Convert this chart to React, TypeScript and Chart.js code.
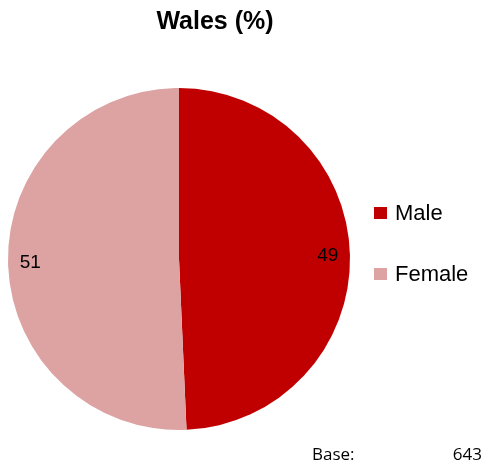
import React, { useEffect, useRef } from "react";
import { Chart, registerables } from "chart.js";

Chart.register(...registerables);

const categories = ["Male", "Female"];
const values = [49.3, 50.7];
const colors = ["#C00000", "#DDA3A3"];
const titleText = "Wales (%)";
const baseLabel = "Base:";
const baseValue = "643";

export default function App() {
  const ref = useRef<HTMLCanvasElement | null>(null);
  useEffect(() => {
    document.body.style.margin = "0";
    const canvas = ref.current!;
    const overlay = {
      id: "overlay",
      afterDraw(chart: any) {
        const ctx = chart.ctx;
        ctx.save();
        // title
        ctx.fillStyle = "#000";
        ctx.font = "bold 25px 'Liberation Sans', Arial, sans-serif";
        ctx.textAlign = "center";
        ctx.textBaseline = "alphabetic";
        ctx.fillText(titleText, 215, 29);
        // slice labels
        const meta = chart.getDatasetMeta(0);
        ctx.font = "19px 'Liberation Sans', Arial, sans-serif";
        ctx.textBaseline = "middle";
        meta.data.forEach((arc: any, i: number) => {
          const mid = (arc.startAngle + arc.endAngle) / 2;
          const r = arc.outerRadius * 0.87;
          const x = arc.x + Math.cos(mid) * r;
          const y = arc.y + Math.sin(mid) * r;
          ctx.fillText(String(Math.round(values[i])), x, y);
        });
        // legend
        ctx.textAlign = "left";
        ctx.font = "22px 'Liberation Sans', Arial, sans-serif";
        categories.forEach((c, i) => {
          const y = 213 + i * 61;
          ctx.fillStyle = colors[i];
          ctx.fillRect(374, y - 6, 13, 12);
          ctx.fillStyle = "#000";
          ctx.fillText(c, 395, y + 1);
        });
        // base
        ctx.font = "17px 'Open Sans', sans-serif";
        ctx.textBaseline = "alphabetic";
        ctx.fillText(baseLabel, 312, 460);
        ctx.textAlign = "right";
        ctx.fillText(baseValue, 482, 460);
        ctx.restore();
      },
    };
    const chart = new Chart(canvas, {
      type: "pie",
      data: {
        labels: categories,
        datasets: [
          {
            data: values,
            backgroundColor: colors,
            borderWidth: 0,
          },
        ],
      },
      options: {
        animation: false,
        responsive: false,
        layout: { padding: { left: 8, top: 88, right: 134, bottom: 38 } },
        plugins: {
          legend: { display: false },
          title: { display: false },
          tooltip: { enabled: false },
        },
      },
      plugins: [overlay],
    });
    return () => chart.destroy();
  }, []);
  return (
    <div style={{ width: 484, height: 468 }}>
      <canvas ref={ref} width={484} height={468} style={{ display: "block" }} />
    </div>
  );
}
